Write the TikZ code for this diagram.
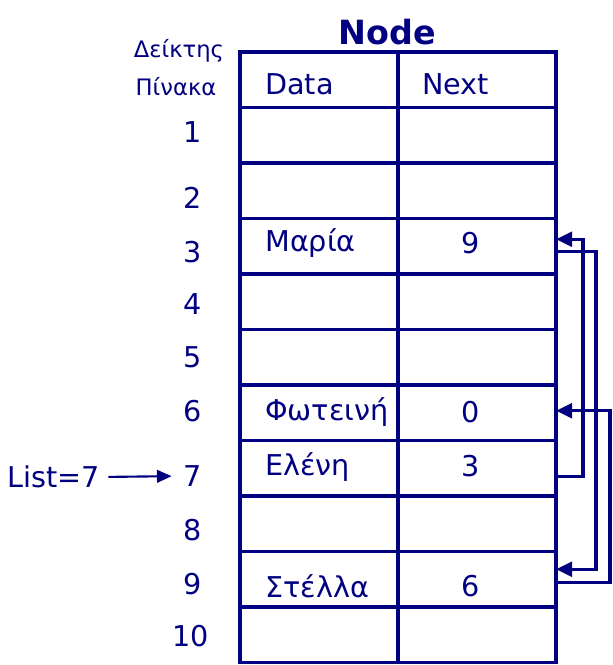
\documentclass[tikz,border=0pt]{standalone}
\usepackage{fontspec}
\setmainfont{DejaVu Sans}
\usetikzlibrary{arrows.meta,calc}
\definecolor{navy}{RGB}{0,0,128}
\begin{document}
\begin{tikzpicture}[x=0.75pt,y=-0.75pt,
  cell/.style={draw=navy, line width=2.7pt, minimum width=118.5pt, minimum height=41.625pt, inner sep=0pt, outer sep=0pt},
  txt/.style={text=navy, font=\fontsize{21.5}{25}\selectfont, inner sep=0pt},
  small/.style={text=navy, font=\fontsize{17}{20}\selectfont, inner sep=0pt},
  title/.style={text=navy, font=\fontsize{25}{29}\selectfont\bfseries, inner sep=0pt},
  link/.style={draw=navy, line width=2.6pt, -{Triangle[length=12pt,width=11pt]}},
  ptr/.style={draw=navy, line width=1.6pt, -{Triangle[length=11pt,width=9.5pt]}}
]
\useasboundingbox (0,0) rectangle (612,665);
% table cells
\foreach \i in {0,...,10} {
  \node[cell] (D\i) at (319,{52+55.5*\i+27.75}) {};
  \node[cell] (N\i) at (477,{52+55.5*\i+27.75}) {};
}
% title and header
\node[title] (node) at (387,32) {Node};
\node[small] (deik) at (179,51) {Δείκτης};
\node[small] (pin) at (176,87) {Πίνακα};
\node[txt, anchor=west] (hdata) at (265,84) {Data};
\node[txt, anchor=west] (hnext) at (422,84) {Next};
% row indices
\node[txt] (r1) at (193,132) {1};
\node[txt] (r2) at (193,198) {2};
\node[txt] (r3) at (193,252) {3};
\node[txt] (r4) at (193,304) {4};
\node[txt] (r5) at (193,357) {5};
\node[txt] (r6) at (193,411) {6};
\node[txt] (r7) at (193,476) {7};
\node[txt] (r8) at (193,530) {8};
\node[txt] (r9) at (193,584) {9};
\node[txt] (r10) at (191,636) {10};
% data
\node[txt, anchor=west] (t3) at (265,243) {Μαρία};
\node[txt] (n3) at (471,243) {9};
\node[txt, anchor=west] (t6) at (265,412) {Φωτεινή};
\node[txt] (n6) at (471,412) {0};
\node[txt, anchor=west] (t7) at (265,467) {Ελένη};
\node[txt] (n7) at (471,466) {3};
\node[txt, anchor=west] (t9) at (265,586) {Στέλλα};
\node[txt] (n9) at (471,586) {6};
% list pointer
\node[txt] (list) at (54,477) {List=7};
\draw[ptr, shorten <=6pt, shorten >=9pt] (list.east) -- (r7.west);
% links
\draw[link] ($(N7.east)+(0,8)$) -- ++(27,0) |- ($(N3.east)+(0,-7)$);
\draw[link] ($(N3.east)+(0,5)$) -- ++(40,0) |- ($(N9.east)+(0,-10)$);
\draw[link] ($(N9.east)+(0,3)$) -- ++(54,0) |- ($(N6.east)+(0,-2)$);
\end{tikzpicture}
\end{document}
